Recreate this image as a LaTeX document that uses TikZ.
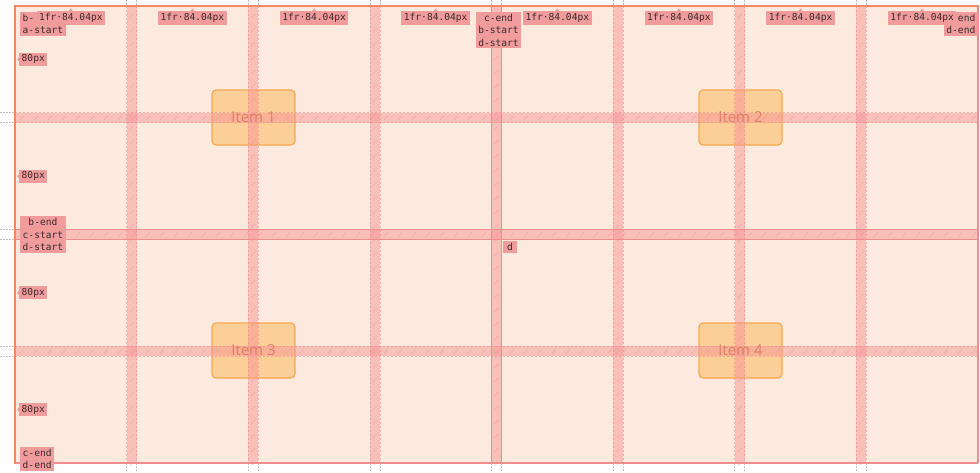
\documentclass[tikz,border=0pt]{standalone}
\usepackage{fontspec}
\newfontfamily\monof{DejaVu Sans Mono}
\newfontfamily\itemf{Open Sans}
\definecolor{bgc}{RGB}{253,234,222}
\definecolor{bandc}{RGB}{246,150,150}
\definecolor{bandedge}{RGB}{238,140,140}
\definecolor{labc}{RGB}{240,156,156}
\definecolor{labtext}{RGB}{58,44,44}
\definecolor{itemfill}{RGB}{252,206,152}
\definecolor{itemedge}{RGB}{246,168,78}
\definecolor{itemtext}{RGB}{222,128,100}
\definecolor{topb}{RGB}{244,136,96}
\definecolor{botb}{RGB}{240,140,140}
\definecolor{extc}{RGB}{190,190,190}
\tikzset{
  itembox/.style={draw=itemedge, line width=1.2pt, fill=itemfill, rounded corners=4pt,
    minimum width=83pt, minimum height=55pt},
  itemlabel/.style={text=itemtext, font=\itemf\fontsize{15}{17}\selectfont},
  lab/.style={fill=labc, text=labtext, font=\monof\fontsize{9.6}{12.4}\selectfont,
    inner xsep=2.5pt, inner ysep=2pt},
  bandfill/.style={fill=bandc, fill opacity=0.5},
  bandline/.style={draw=bandedge, line width=0.6pt, dash pattern=on 2pt off 2pt, draw opacity=0.6},
  arealine/.style={draw=bandedge, line width=1.3pt},
  extline/.style={draw=extc, line width=0.6pt, dash pattern=on 1.5pt off 1.5pt}
}
\begin{document}
\begin{tikzpicture}[x=1pt,y=-1pt]
\useasboundingbox (0,0) rectangle (980,472);
\clip (0,0) rectangle (980,472);
\fill[white] (0,0) rectangle (980,472);
% container
\fill[bgc] (15,6) rectangle (978,463);
% items
\node[itembox] (i1) at (253.5,117.5) {};
\node[itembox] (i2) at (740.5,117.5) {};
\node[itembox] (i3) at (253.5,350.5) {};
\node[itembox] (i4) at (740.5,350.5) {};
% column gaps
\foreach \i in {1,...,7} {
  \pgfmathsetmacro\xa{15+\i*111.625+(\i-1)*10}
  \pgfmathsetmacro\xb{\xa+10}
  \fill[bandfill] (\xa,6) rectangle (\xb,463);
  \draw[extline] (\xa,0) -- (\xa,6);
  \draw[extline] (\xb,0) -- (\xb,6);
  \draw[extline] (\xa,463) -- (\xa,472);
  \draw[extline] (\xb,463) -- (\xb,472);
}
% row gaps
\foreach \j in {1,2,3} {
  \pgfmathsetmacro\ya{6+\j*106.75+(\j-1)*10}
  \pgfmathsetmacro\yb{\ya+10}
  \fill[bandfill] (15,\ya) rectangle (978,\yb);
  \draw[extline] (0,\ya) -- (15,\ya);
  \draw[extline] (0,\yb) -- (15,\yb);
}
% faint hatching
\foreach \i in {1,...,7} {
  \pgfmathsetmacro\xa{15+\i*111.625+(\i-1)*10}
  \foreach \t in {0,...,32} {
    \draw[bandedge, line width=0.5pt, draw opacity=0.45] (\xa+3,12+\t*14+6) -- (\xa+7,12+\t*14+2);
  }
}
\foreach \j in {1,2,3} {
  \pgfmathsetmacro\ya{6+\j*106.75+(\j-1)*10}
  \foreach \t in {0,...,68} {
    \draw[bandedge, line width=0.5pt, draw opacity=0.45] (20+\t*14,\ya+7) -- (24+\t*14,\ya+3);
  }
}
% gap edge lines
\foreach \i in {1,2,3,5,6,7} {
  \pgfmathsetmacro\xa{15+\i*111.625+(\i-1)*10}
  \pgfmathsetmacro\xb{\xa+10}
  \draw[bandline] (\xa,6) -- (\xa,463);
  \draw[bandline] (\xb,6) -- (\xb,463);
}
\foreach \j in {1,3} {
  \pgfmathsetmacro\ya{6+\j*106.75+(\j-1)*10}
  \pgfmathsetmacro\yb{\ya+10}
  \draw[bandline] (15,\ya) -- (978,\ya);
  \draw[bandline] (15,\yb) -- (978,\yb);
}
% area boundary lines
\draw[arealine] (491.5,6) -- (491.5,463);
\draw[arealine] (501.5,6) -- (501.5,463);
\draw[arealine] (15,229.5) -- (978,229.5);
\draw[arealine] (15,239.5) -- (978,239.5);
% item texts
\node[itemlabel] at (i1) {Item 1};
\node[itemlabel] at (i2) {Item 2};
\node[itemlabel] at (i3) {Item 3};
\node[itemlabel] at (i4) {Item 4};
% container borders
\draw[botb, line width=2pt] (15,463) -- (978,463);
\draw[botb, line width=2pt] (978,6) -- (978,463);
\draw[topb, line width=2pt] (14,6) -- (979,6);
\draw[topb, line width=2pt] (15,5) -- (15,464);
% line-name labels
\node[lab, anchor=north west, align=left] (ln1) at (20,12) {b-\\a-start};
\node[lab, anchor=north, align=center] (ln5) at (498.5,12) {c-end\\b-start\\d-start};
\node[lab, anchor=north east, align=right] (ln9) at (978,12) {end\\d-end};
\node[lab, anchor=west, align=center] (lr3) at (20,234.5) {b-end\\c-start\\d-start};
\node[lab, anchor=north west, align=center] (lr5) at (20,447) {c-end\\d-end};
\node[lab, anchor=north west, inner xsep=4pt] (ad) at (503,241) {d};
% column size labels
\foreach \k in {1,...,8} {
  \pgfmathsetmacro\xc{15+(\k-0.5)*111.625+(\k-1)*10}
  \fill[labc] (\xc-2.5,11.5) -- (\xc,8.5) -- (\xc+2.5,11.5) -- cycle;
  \node[lab] (c\k) at (\xc,18) {1fr·84.04px};
}
% row size labels
\foreach \j in {1,...,4} {
  \pgfmathsetmacro\yc{6+(\j-0.5)*106.75+(\j-1)*10}
  \fill[labc] (19.5,\yc-2.5) -- (17,\yc) -- (19.5,\yc+2.5) -- cycle;
  \node[lab, anchor=west] (r\j) at (19,\yc) {80px};
}
\end{tikzpicture}
\end{document}
